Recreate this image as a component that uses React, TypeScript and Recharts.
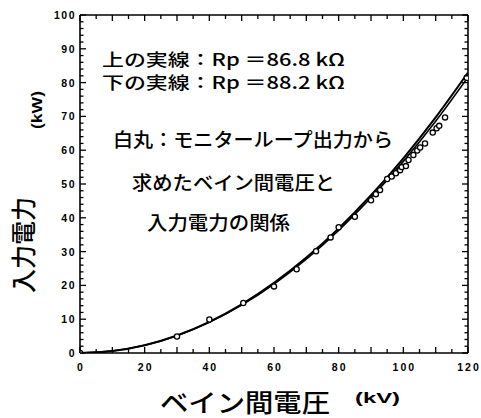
import React from 'react';
import { ComposedChart, Line, Scatter, XAxis, YAxis } from 'recharts';

// Fitted curves (kV -> kW)
const curveVoltage = [0, 10, 20, 30, 40, 50, 60, 70, 80, 90, 100, 110, 120];
const upperPower = [0, 0.58, 2.3, 5.18, 9.22, 14.4, 20.74, 28.23, 36.87, 46.66, 57.6, 69.7, 82.95];
const lowerPower = [0, 0.57, 2.27, 5.1, 9.07, 14.17, 20.41, 27.78, 36.28, 45.92, 56.69, 68.59, 81.63];

// Measured points (white circles)
const pointVoltage = [0, 30, 40, 50.5, 60, 67, 73, 77.5, 80, 85, 90, 91.5, 92.8, 95, 96.4, 97.7, 99, 99.5, 100.8, 101.6, 103.1, 104.3, 105.2, 106.7, 109.1, 110.3, 111.1, 112.9, 119.6];
const pointPower = [0, 4.9, 9.9, 14.8, 19.7, 24.8, 30.1, 34.2, 37.2, 40.3, 45.2, 47, 48.2, 51.5, 52.2, 53.2, 54.1, 55, 55.3, 57.1, 58.6, 59.9, 60.8, 62, 65.2, 66.5, 67.2, 69.7, 81.4];

const xTicks = [0, 5, 10, 15, 20, 25, 30, 35, 40, 45, 50, 55, 60, 65, 70, 75, 80, 85, 90, 95, 100, 105, 110, 115, 120];
const xLabels = [0, 20, 40, 60, 80, 100, 120];
const yTicks = [0, 2, 4, 6, 8, 10, 12, 14, 16, 18, 20, 22, 24, 26, 28, 30, 32, 34, 36, 38, 40, 42, 44, 46, 48, 50, 52, 54, 56, 58, 60, 62, 64, 66, 68, 70, 72, 74, 76, 78, 80, 82, 84, 86, 88, 90, 92, 94, 96, 98, 100];
const yLabels = [0, 10, 20, 30, 40, 50, 60, 70, 80, 90, 100];

const curveData = curveVoltage.map((x, i) => ({ x, upper: upperPower[i], lower: lowerPower[i] }));
const pointData = pointVoltage.map((x, i) => ({ x, y: pointPower[i] }));

const tickFont = '"Liberation Sans", Arial, sans-serif';
const jpFont = '"Noto Sans CJK JP", "Noto Sans", sans-serif';

const XBottomTick = (p: any) => {
  const v = p.payload.value;
  const major = v % 10 === 0;
  return (
    <g>
      <line x1={p.x} x2={p.x} y1={p.y} y2={p.y - (major ? 6 : 4)} stroke="#000" strokeWidth={1.3} />
      {xLabels.includes(v) && (
        <text x={p.x + 1} y={p.y + 18} textAnchor="middle" style={{ fontFamily: tickFont, fontWeight: 'bold', fontSize: 10.5, letterSpacing: 2 }} fill="#000">
          {v}
        </text>
      )}
    </g>
  );
};

const XTopTick = (p: any) => {
  const v = p.payload.value;
  const major = v % 10 === 0;
  return <line x1={p.x} x2={p.x} y1={p.y} y2={p.y + (major ? 6 : 4)} stroke="#000" strokeWidth={1.3} />;
};

const YLeftTick = (p: any) => {
  const v = p.payload.value;
  const major = v % 10 === 0;
  return (
    <g>
      <line x1={p.x} x2={p.x + (major ? 6 : 3.5)} y1={p.y} y2={p.y} stroke="#000" strokeWidth={1.3} />
      {yLabels.includes(v) && (
        <text x={p.x - 4} y={p.y + 4} textAnchor="end" style={{ fontFamily: tickFont, fontWeight: 'bold', fontSize: 10.5, letterSpacing: 1.5 }} fill="#000">
          {v}
        </text>
      )}
    </g>
  );
};

const YRightTick = (p: any) => {
  const v = p.payload.value;
  const major = v % 10 === 0;
  return <line x1={p.x} x2={p.x - (major ? 6 : 3.5)} y1={p.y} y2={p.y} stroke="#000" strokeWidth={1.3} />;
};

const Circle = (p: any) => (
  <circle cx={p.cx} cy={p.cy} r={2.6} fill="#fff" stroke="#000" strokeWidth={1.3} />
);

const axisLine = { stroke: '#000', strokeWidth: 1.6 };

export default function App() {
  return (
    <div style={{ position: 'absolute', left: 0, top: 0, width: 481, height: 418, background: '#fff' }}>
      <ComposedChart width={481} height={418} margin={{ top: 14, right: 12, bottom: 64, left: 79 }}>
        <XAxis xAxisId={0} type="number" dataKey="x" domain={[0, 120]} ticks={xTicks} interval={0} height={1} tickSize={0} tickMargin={0} tickLine={false} axisLine={axisLine} tick={XBottomTick} allowDataOverflow />
        <XAxis xAxisId="top" orientation="top" type="number" dataKey="x" domain={[0, 120]} ticks={xTicks} interval={0} height={1} tickSize={0} tickMargin={0} tickLine={false} axisLine={axisLine} tick={XTopTick} allowDataOverflow />
        <YAxis yAxisId={0} type="number" domain={[0, 100]} ticks={yTicks} interval={0} width={1} tickSize={0} tickMargin={0} tickLine={false} axisLine={axisLine} tick={YLeftTick} allowDataOverflow />
        <YAxis yAxisId="right" orientation="right" type="number" domain={[0, 100]} ticks={yTicks} interval={0} width={1} tickSize={0} tickMargin={0} tickLine={false} axisLine={axisLine} tick={YRightTick} allowDataOverflow />
        <Line data={curveData} dataKey="upper" type="monotone" stroke="#000" strokeWidth={2} dot={false} isAnimationActive={false} />
        <Line data={curveData} dataKey="lower" type="monotone" stroke="#000" strokeWidth={1.6} dot={false} isAnimationActive={false} />
        <Scatter data={pointData} dataKey="y" shape={Circle} isAnimationActive={false} />
      </ComposedChart>
      <svg width={481} height={418} style={{ position: 'absolute', left: 0, top: 0, pointerEvents: 'none' }}>
        <g fill="#000" style={{ fontFamily: jpFont, fontWeight: 500 }}>
          <text x={102} y={66} style={{ fontSize: 17 }} textLength={243} lengthAdjust="spacingAndGlyphs">上の実線：Rp ＝86.8 kΩ</text>
          <text x={102} y={89} style={{ fontSize: 17 }} textLength={243} lengthAdjust="spacingAndGlyphs">下の実線：Rp ＝88.2 kΩ</text>
          <text x={113} y={147} style={{ fontSize: 19 }} textLength={280} lengthAdjust="spacingAndGlyphs">白丸：モニターループ出力から</text>
          <text x={132} y={190} style={{ fontSize: 19 }} textLength={203} lengthAdjust="spacingAndGlyphs">求めたベイン間電圧と</text>
          <text x={147} y={230} style={{ fontSize: 19 }} textLength={143} lengthAdjust="spacingAndGlyphs">入力電力の関係</text>
          <text x={160} y={412} style={{ fontSize: 25 }} textLength={170} lengthAdjust="spacingAndGlyphs">ベイン間電圧</text>
          <text x={355} y={403} style={{ fontSize: 15, fontFamily: tickFont, fontWeight: 'bold' }} textLength={45} lengthAdjust="spacingAndGlyphs">(kV)</text>
          <text transform="translate(33,245) rotate(-90)" textAnchor="middle" style={{ fontSize: 25 }} textLength={96} lengthAdjust="spacingAndGlyphs">入力電力</text>
          <text transform="translate(42,110) rotate(-90)" textAnchor="middle" style={{ fontSize: 14, fontFamily: tickFont, fontWeight: 'bold' }} textLength={38} lengthAdjust="spacingAndGlyphs">(kW)</text>
        </g>
      </svg>
    </div>
  );
}
